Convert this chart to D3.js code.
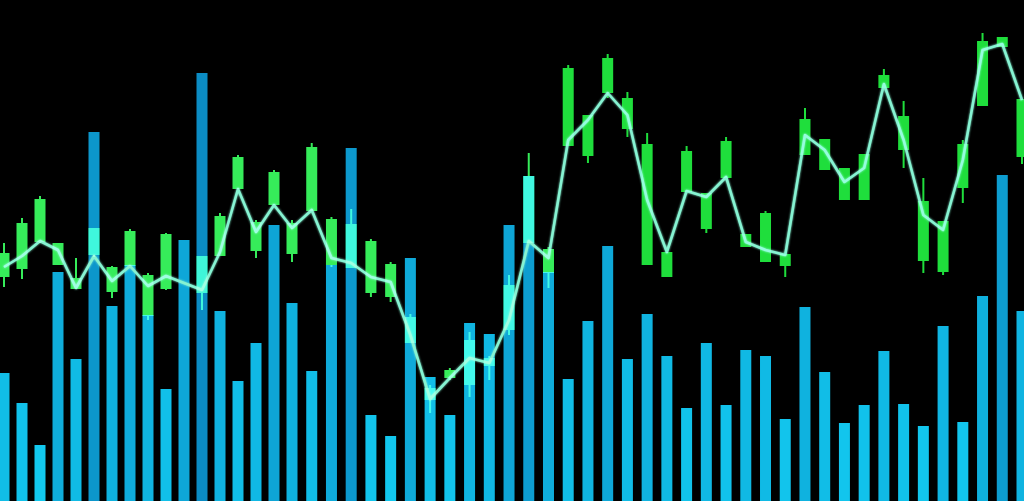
<!DOCTYPE html>
<html lang="en"><head>
<meta charset="utf-8">
<title>candles</title>
<script type="text/javascript" src="https://cdn.jsdelivr.net/npm/d3@7/dist/d3.min.js"></script>
<style type="text/css">
  html, body { margin: 0; padding: 0; background: #000; overflow: hidden; }
  svg { display: block; background: #000; }
</style>
</head>
<body>
<svg width="1024" height="501"></svg>
<script type="text/javascript">

    // one entry per trading day, day 10 has no candle
    var volume = [128, 98, 56, 229, 142, 369, 195, 236, 186, 112,
                  261, 428, 190, 120, 158, 276, 198, 130, 236, 353,
                  86, 65, 243, 124, 86, 178, 167, 276, 325, 229,
                  122, 180, 255, 142, 187, 145, 93, 158, 96, 151,
                  145, 82, 194, 129, 78, 96, 150, 97, 75, 175,
                  79, 205, 326, 190];

    var high  = [258, 283, 305, 258, 243, 273, 235, 272, 228, 268,
                 null, 245, 288, 346, 281, 331, 281, 358, 284, 292,
                 262, 239, 187, 116, 133, 169, 145, 226, 348, 254,
                 436, 386, 447, 409, 368, 249, 355, 308, 364, 267,
                 290, 247, 393, 362, 333, 347, 432, 400, 323, 280,
                 361, 468, 464, 402];
    var low   = [214, 222, 258, 236, 212, 244, 203, 235, 181, 211,
                 null, 191, 245, 312, 243, 296, 239, 290, 234, 233,
                 204, 199, 158, 88, 121, 104, 121, 166, 258, 213,
                 355, 338, 403, 364, 236, 224, 309, 268, 323, 254,
                 239, 224, 346, 331, 301, 301, 413, 333, 228, 226,
                 298, 395, 454, 337];
    var open  = [224, 232, 259, 236, 212, 246, 209, 235, 185, 212,
                 null, 208, 245, 312, 250, 296, 247, 290, 236, 233,
                 208, 204, 158, 101, 123, 116, 135, 171, 258, 228,
                 355, 345, 408, 372, 236, 224, 309, 272, 323, 254,
                 239, 235, 346, 331, 301, 301, 413, 351, 240, 229,
                 313, 395, 454, 344];
    var close = [248, 278, 302, 258, 223, 273, 234, 270, 226, 267,
                 null, 245, 285, 344, 279, 329, 278, 354, 282, 277,
                 260, 237, 184, 113, 131, 161, 143, 216, 325, 252,
                 433, 386, 443, 403, 357, 249, 350, 308, 360, 267,
                 288, 247, 382, 362, 333, 347, 426, 385, 300, 280,
                 357, 460, 464, 402];

    // smoothed price line drawn through the candles
    var trend = [234, 245, 260, 251, 213, 245, 220, 235, 215, 225,
                 null, 211, 249, 312, 269, 296, 273, 291, 243, 238,
                 224, 219, 166, 102, 123, 143, 138, 181, 260, 243,
                 361, 381, 408, 386, 301, 249, 310, 304, 324, 259,
                 251, 246, 366, 351, 319, 333, 417, 361, 286, 271,
                 341, 451, 457, 401];

    var svg = d3.select("svg"),
        width = +svg.attr("width"),
        height = +svg.attr("height");

    var days = d3.range(volume.length);

    // bars are a little tighter on the left than on the right
    var x = d3.scaleLinear()
              .domain([0, 16, 53])
              .range([4, 292, 1022]);

    var yVol = d3.scaleLinear()
                 .domain([0, 501])
                 .range([height, 0]);

    var yPrice = d3.scaleLinear()
                   .domain([0, 501])
                   .range([height, 0]);

    var barColor = d3.scaleLinear()
                     .domain([60, 430])
                     .range(["#12c8ef", "#0b8cc4"]);

    var barW = 11,
        bodyW = 11;

    var defs = svg.append("defs");
    var glow = defs.append("filter").attr("id", "glow")
                   .attr("x", "-50%").attr("y", "-50%")
                   .attr("width", "200%").attr("height", "200%");
    glow.append("feGaussianBlur").attr("stdDeviation", 1.2).attr("result", "b");
    var merge = glow.append("feMerge");
    merge.append("feMergeNode").attr("in", "b");
    merge.append("feMergeNode").attr("in", "SourceGraphic");

    // volume
    svg.append("g")
       .attr("class", "volume")
       .selectAll("rect")
       .data(days)
       .enter()
       .append("rect")
       .attr("x", function(i) { return x(i) - barW / 2; })
       .attr("y", function(i) { return yVol(volume[i]); })
       .attr("width", barW)
       .attr("height", function(i) { return yVol(0) - yVol(volume[i]); })
       .attr("fill", function(i) { return barColor(volume[i]); });

    // trend line
    var line = d3.line()
                 .defined(function(i) { return trend[i] != null; })
                 .x(function(i) { return x(i); })
                 .y(function(i) { return yPrice(trend[i]); });

    svg.append("path")
       .datum(days.filter(function(i) { return trend[i] != null; }))
       .attr("fill", "none")
       .attr("stroke", "#86f3d2")
       .attr("stroke-width", 2.6)
       .attr("stroke-linejoin", "round")
       .attr("filter", "url(#glow)")
       .attr("d", line);

    // candles
    var candle = svg.append("g")
       .attr("class", "candles")
       .style("mix-blend-mode", "screen")
       .selectAll("g")
       .data(days.filter(function(i) { return close[i] != null; }))
       .enter()
       .append("g");

    candle.append("line")
       .attr("x1", function(i) { return x(i); })
       .attr("x2", function(i) { return x(i); })
       .attr("y1", function(i) { return yPrice(high[i]); })
       .attr("y2", function(i) { return yPrice(low[i]); })
       .attr("stroke", function(i) { return i < 30 ? "#36ec5a" : "#1fde3c"; })
       .attr("stroke-width", 2);

    candle.append("rect")
       .attr("x", function(i) { return x(i) - bodyW / 2; })
       .attr("y", function(i) { return yPrice(Math.max(open[i], close[i])); })
       .attr("width", bodyW)
       .attr("height", function(i) { return Math.max(2, Math.abs(yPrice(open[i]) - yPrice(close[i]))); })
       .attr("fill", function(i) { return i < 30 ? "#36ec5a" : "#1fde3c"; });

</script>
</body>
</html>
